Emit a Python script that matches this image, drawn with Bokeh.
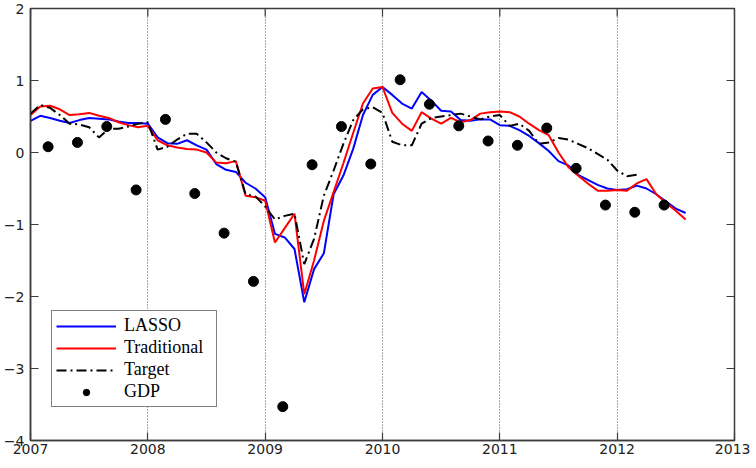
import math
from bokeh.plotting import figure
from bokeh.models import FixedTicker, Range1d, Legend, LegendItem
from bokeh.embed import file_html
from bokeh.resources import INLINE

# ---- data ----
start_year = 2007
lasso = [0.44, 0.51, 0.48, 0.44, 0.41, 0.45, 0.48, 0.47, 0.46, 0.43, 0.41, 0.41,
         0.40, 0.21, 0.13, 0.12, 0.17, 0.10, 0.04, -0.16, -0.24, -0.27, -0.42, -0.50,
         -0.62, -1.13, -1.18, -1.34, -2.08, -1.62, -1.40, -0.58, -0.32, 0.05, 0.52, 0.80,
         0.91, 0.80, 0.68, 0.61, 0.84, 0.72, 0.58, 0.57, 0.45, 0.44, 0.46, 0.46,
         0.38, 0.37, 0.31, 0.23, 0.13, 0.02, -0.12, -0.18, -0.31, -0.38, -0.45, -0.50,
         -0.52, -0.51, -0.46, -0.50, -0.58, -0.68, -0.78, -0.84]
traditional = [0.52, 0.64, 0.65, 0.60, 0.52, 0.53, 0.55, 0.51, 0.48, 0.42, 0.38, 0.35,
               0.37, 0.17, 0.10, 0.07, 0.05, 0.04, 0.00, -0.14, -0.15, -0.12, -0.60, -0.62,
               -0.67, -1.25, -1.05, -0.85, -1.97, -1.50, -0.95, -0.55, -0.15, 0.27, 0.68, 0.89,
               0.91, 0.55, 0.40, 0.30, 0.56, 0.47, 0.40, 0.48, 0.42, 0.45, 0.54, 0.56,
               0.57, 0.56, 0.50, 0.40, 0.31, 0.24, 0.00, -0.20, -0.32, -0.43, -0.53, -0.53,
               -0.52, -0.53, -0.43, -0.37, -0.58, -0.70, -0.81, -0.93]
target = [0.54, 0.66, 0.62, 0.52, 0.40, 0.39, 0.35, 0.21, 0.33, 0.33, 0.36, 0.40,
          0.42, 0.04, 0.08, 0.18, 0.26, 0.26, 0.14, 0.00, -0.08, -0.13, -0.58, -0.61,
          -0.75, -0.93, -0.88, -0.85, -1.55, -1.20, -0.60, -0.25, 0.12, 0.45, 0.60, 0.63,
          0.55, 0.15, 0.10, 0.10, 0.40, 0.48, 0.50, 0.52, 0.54, 0.50, 0.46, 0.50,
          0.52, 0.37, 0.40, 0.30, 0.12, 0.14, 0.20, 0.18, 0.12, 0.06, -0.02, -0.10,
          -0.25, -0.33, -0.31]
gdp = [0.08, 0.14, 0.36, -0.52,
       0.46, -0.57, -1.12, -1.79,
       -3.53, -0.17, 0.36, -0.16,
       1.01, 0.67, 0.37, 0.16,
       0.10, 0.34, -0.22, -0.73,
       -0.83, -0.73]
x_ticks = [2007, 2008, 2009, 2010, 2011, 2012, 2013]
y_ticks = [-4, -3, -2, -1, 0, 1, 2]
grid_years = [2008, 2009, 2010, 2011, 2012]

# monthly time axis for the nowcasts, quarterly (mid-quarter) for GDP
months_l = [start_year + k / 12 for k in range(len(lasso))]
months_t = [start_year + k / 12 for k in range(len(traditional))]
months_g = [start_year + k / 12 for k in range(len(target))]
quarters = [start_year + 0.15 + 0.25 * q for q in range(len(gdp))]

FRAME = "#3c3c3c"

p = figure(frame_width=704, frame_height=432,
           x_range=Range1d(x_ticks[0], x_ticks[-1]), y_range=Range1d(y_ticks[0], y_ticks[-1]),
           output_backend="svg", toolbar_location=None,
           min_border_left=26, min_border_right=16, min_border_top=8, min_border_bottom=20)
p.background_fill_color = "white"
p.border_fill_color = "white"
p.outline_line_color = FRAME
p.outline_line_width = 1.5

p.xaxis.ticker = FixedTicker(ticks=x_ticks)
p.yaxis.ticker = FixedTicker(ticks=y_ticks)
for ax in list(p.xaxis) + list(p.yaxis):
    ax.major_tick_in = 8
    ax.major_tick_out = 0
    ax.minor_tick_line_color = None
    ax.axis_line_color = FRAME
    ax.axis_line_width = 1.5
    ax.major_tick_line_color = FRAME
    ax.major_tick_line_width = 1.2
    ax.major_label_text_font = "DejaVu Sans"
    ax.major_label_text_font_size = "14px"
    ax.major_label_text_color = "#222222"
p.xaxis.major_label_standoff = 3
p.yaxis.major_label_standoff = 6

# inward tick marks on the right and top edges of the box
p.ray(x=[x_ticks[-1]] * len(y_ticks), y=y_ticks, length=8, length_units="screen",
      angle=math.pi, line_color=FRAME, line_width=1.2)
p.ray(x=x_ticks, y=[y_ticks[-1]] * len(x_ticks), length=8, length_units="screen",
      angle=-math.pi / 2, line_color=FRAME, line_width=1.2)

p.xgrid.ticker = FixedTicker(ticks=grid_years)
p.xgrid.grid_line_color = "#555555"
p.xgrid.grid_line_dash = "1 2"
p.xgrid.grid_line_width = 1
p.ygrid.visible = False

r_lasso = p.line(months_l, lasso, line_color="#0000ff", line_width=2)
r_trad = p.line(months_t, traditional, line_color="#ff0000", line_width=2)
r_targ = p.line(months_g, target, line_color="black", line_width=2, line_dash="10 4 2 4")
r_gdp = p.scatter(quarters, gdp, size=10, marker="circle", fill_color="black", line_color="black")

legend = Legend(items=[LegendItem(label="LASSO", renderers=[r_lasso]),
                       LegendItem(label="Traditional", renderers=[r_trad]),
                       LegendItem(label="Target", renderers=[r_targ]),
                       LegendItem(label="GDP", renderers=[r_gdp])],
                location=(21, 33), padding=4, spacing=1, glyph_width=60, glyph_height=16,
                label_height=16, label_standoff=8, label_width=88,
                label_text_font="Liberation Serif", label_text_font_size="18px",
                label_text_color="black",
                border_line_color="black", border_line_width=1,
                background_fill_color="white", background_fill_alpha=1)
p.add_layout(legend)

open("out.html", "w").write(file_html(p, INLINE))
